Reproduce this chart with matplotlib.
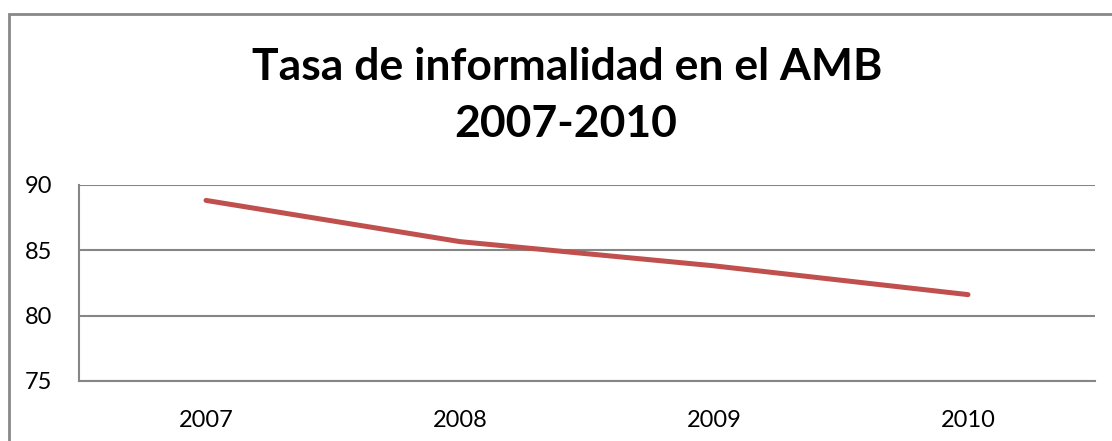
import matplotlib.pyplot as plt
from matplotlib.patches import Rectangle

years = ["2007", "2008", "2009", "2010"]
tasa = [88.8, 85.65, 83.8, 81.6]
y_ticks = [75, 80, 85, 90]

W, H = 1112, 441
plt.rcParams['font.family'] = ['Lato', 'DejaVu Sans']

fig = plt.figure(figsize=(W / 100, H / 100), dpi=100)
ax = fig.add_axes([79 / W, 1 - 381 / H, (1095 - 79) / W, (381 - 184.7) / H])

x = range(len(years))
ax.plot(x, tasa, color='#C0504D', linewidth=3.6, solid_capstyle='round')

ax.set_xlim(-0.5, len(years) - 0.5)
ax.set_ylim(75, 90)
ax.set_xticks(list(x))
ax.set_xticklabels(years)
ax.set_yticks(y_ticks)
ax.tick_params(axis='both', length=0, labelsize=17, colors='black')
ax.tick_params(axis='y', pad=19)
ax.tick_params(axis='x', pad=21)
ax.grid(axis='y', color='#868686', linewidth=1.5)
ax.set_axisbelow(True)
for side in ['top', 'right']:
    ax.spines[side].set_visible(False)
for side in ['left', 'bottom']:
    ax.spines[side].set_color('#868686')
    ax.spines[side].set_linewidth(1.5)

# outer chart border (cut off at right and bottom)
fig.patches.append(Rectangle((9 / W, -0.1), 1.2, 1 - 14 / H + 0.1,
                             transform=fig.transFigure, fill=False,
                             edgecolor='#888888', linewidth=2))

fig.text(567 / W, 1 - 80 / H, "Tasa de informalidad en el AMB",
         ha='center', va='baseline', fontsize=32, fontweight='bold')
fig.text(566 / W, 1 - 137 / H, "2007-2010",
         ha='center', va='baseline', fontsize=32, fontweight='bold')

fig.savefig('out.png', dpi=100)
